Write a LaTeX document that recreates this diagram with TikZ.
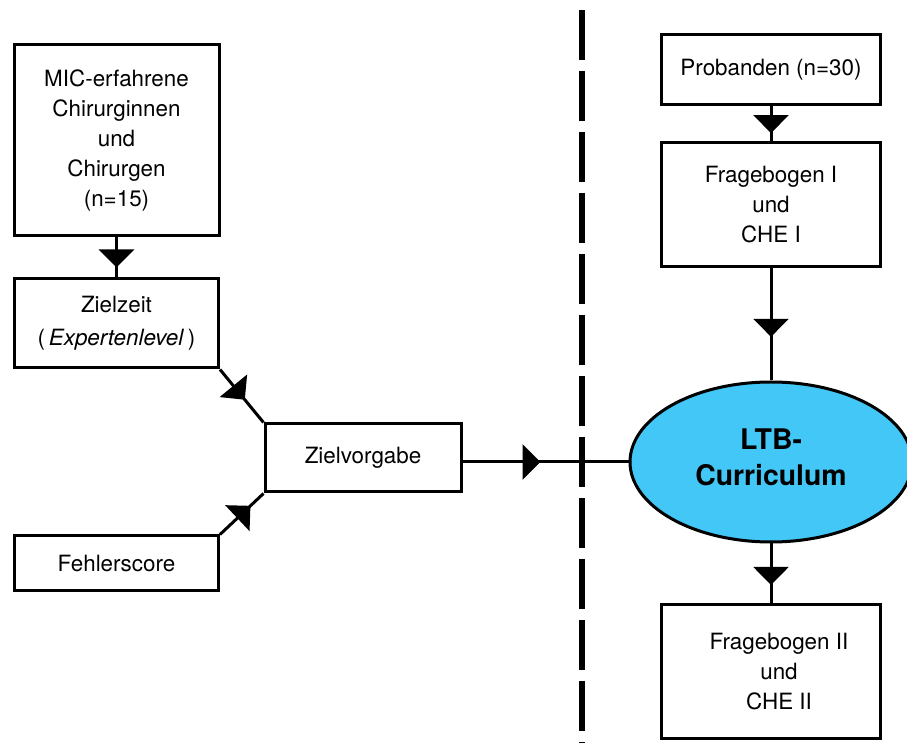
\documentclass[tikz,border=0pt]{standalone}
\usepackage{fontspec}
\setmainfont{TeX Gyre Heros}
\usetikzlibrary{arrows.meta,decorations.markings,shapes.geometric}

\definecolor{currblue}{RGB}{66,199,247}

\begin{document}
\begin{tikzpicture}[
            x=0.5pt, y=-0.5pt,
            every node/.style = {align=center, font=\fontsize{11.2}{15}\selectfont},
            box/.style = {shape=rectangle, draw=black, line width=1.5pt, inner sep=0pt},
            conn/.style = {line width=1.5pt},
            tip/.style = {postaction={decorate}, decoration={markings, mark=at position #1 with {\arrow{Triangle[width=17.5pt,length=9pt]}}}}
          ]
          \useasboundingbox (0,0) rectangle (907,743);
          \node[box, minimum width=102.5pt, minimum height=95.5pt] (mic) at (116.5,140.5) {MIC-erfahrene\\Chirurginnen\\und\\Chirurgen\\(n=15)};
          \node[box, minimum width=102pt, minimum height=44.5pt] (ziel) at (116.5,323.5) {Zielzeit\\[1.5pt](\,\textit{Expertenlevel}\,)};
          \node[box, minimum width=102pt, minimum height=27.5pt] (fehler) at (116.5,563.5) {Fehlerscore};
          \node[box, minimum width=98pt, minimum height=34pt] (vorgabe) at (363,458) {Zielvorgabe};
          \node[box, minimum width=109.5pt, minimum height=35pt] (prob) at (771,70) {Probanden (n=30)};
          \node[box, minimum width=109.5pt, minimum height=62pt] (frag1) at (771,205) {Fragebogen I\\und\\CHE I};
          \node[shape=ellipse, draw=black, fill=currblue, line width=1.5pt, inner sep=0pt, minimum width=141pt, minimum height=80pt,
                font=\bfseries\fontsize{14.2}{18}\selectfont] (curr) at (771,462) {LTB-\\Curriculum\\[-13pt]};
          \node[box, minimum width=109.5pt, minimum height=67pt] (frag2) at (771,672) {\hspace{8pt}Fragebogen II\\\hspace{8pt}und\\\hspace{8pt}CHE II};
          \draw[line width=3.2pt, dash pattern=on 25pt off 5.5pt] (582,10) -- (582,743);
          \draw[conn, tip=0.75] (mic) -- (ziel);
          \draw[conn, tip=0.57] (ziel.south east) -- (vorgabe.north west);
          \draw[conn, tip=0.7] (fehler.north east) -- (vorgabe.south west);
          \draw[conn, tip=0.47] (vorgabe.east |- curr.west) -- (curr.west);
          \draw[conn, tip=0.76] (prob) -- (frag1);
          \draw[conn, tip=0.61] (frag1) -- (curr);
          \draw[conn, tip=0.69] (curr) -- (frag2);
        \end{tikzpicture}
\end{document}
